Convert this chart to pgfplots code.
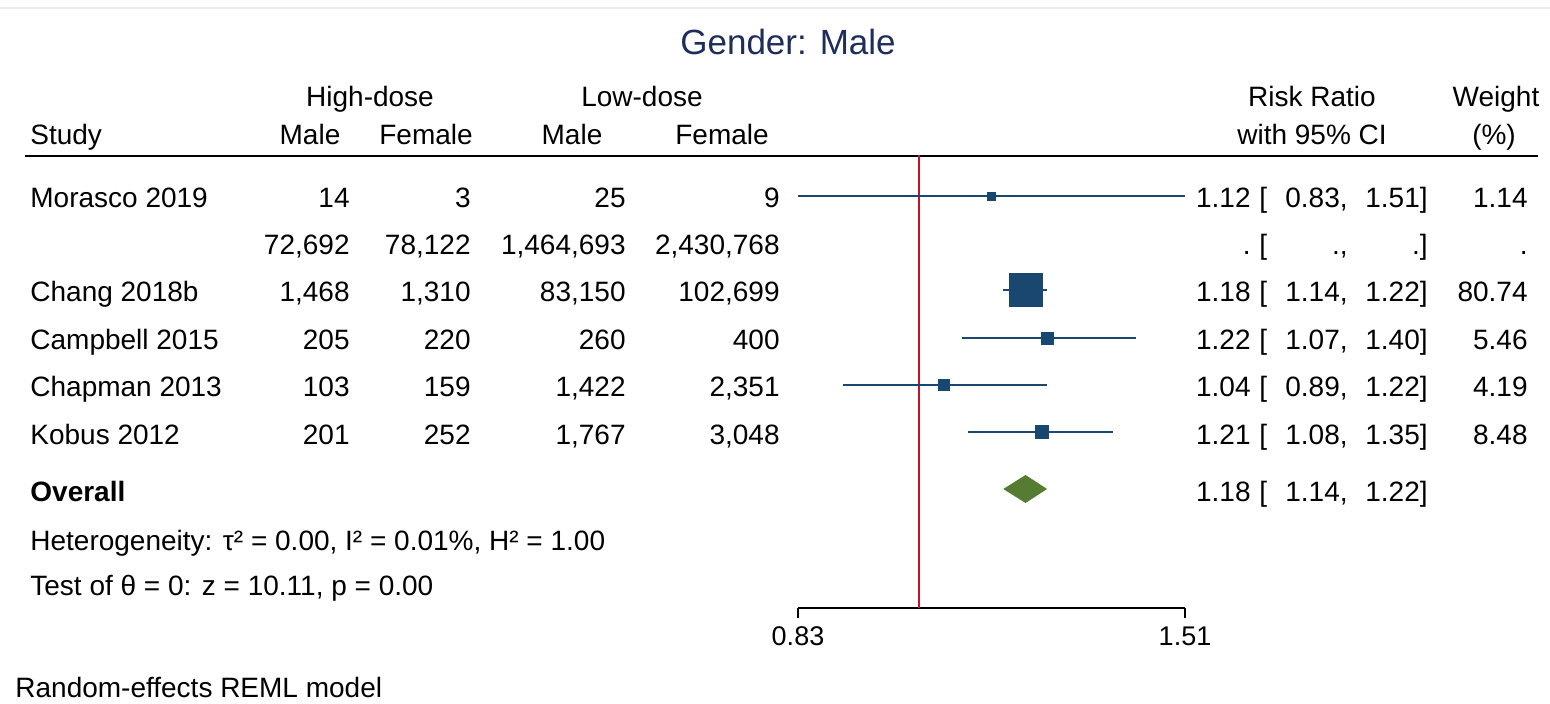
\documentclass[border=0pt]{standalone}
\usepackage{fontspec}
\setmainfont{Liberation Sans}
\usepackage{pgfplots}
\pgfplotsset{compat=1.18}
\definecolor{stnavy}{RGB}{26,71,111}
\definecolor{stgreen}{RGB}{86,124,52}
\definecolor{stred}{RGB}{200,16,46}
\definecolor{sttitle}{RGB}{30,45,90}
\newcommand\rowL[6]{%
 \node[anchor=base west] at (30,#1) {#2};
 \node[anchor=base east] at (350,#1) {#3};
 \node[anchor=base east] at (471,#1) {#4};
 \node[anchor=base east] at (626,#1) {#5};
 \node[anchor=base east] at (780,#1) {#6};}
\newcommand\rowR[5]{%
 \node[anchor=base east] at (1251,#1) {#2};
 \node[anchor=base west] at (1259,#1) {[};
 \node[anchor=base east] at (1348,#1) {#3,};
 \node[anchor=base east] at (1428,#1) {#4]};
 \node[anchor=base east] at (1528,#1) {#5};}
\begin{document}
\begin{tikzpicture}
\fontsize{14}{17}\selectfont
\begin{scope}[x=0.5pt,y=-0.5pt,every node/.style={inner sep=0pt,font=\fontsize{14}{17}\selectfont}]
\path[use as bounding box] (0,0) rectangle (1550,704);
\draw[black!8, line width=0.6pt] (0,8) -- (1550,8);
\node[anchor=base, text=sttitle, font=\fontsize{17.5}{21}\selectfont] at (788,55) {Gender: Male};
% headers
\node[anchor=base] at (370,107) {High-dose};
\node[anchor=base] at (642,107) {Low-dose};
\node[anchor=base] at (1312,107) {Risk Ratio};
\node[anchor=base] at (1496,107) {Weight};
\node[anchor=base west] at (30,145) {Study};
\node[anchor=base] at (310,145) {Male};
\node[anchor=base] at (426,145) {Female};
\node[anchor=base] at (572,145) {Male};
\node[anchor=base] at (722,145) {Female};
\node[anchor=base] at (1312,145) {with 95\% CI};
\node[anchor=base] at (1494,145) {(\%)};
\draw[black, line width=1.3pt] (25,156) -- (1538,156);
% rows
\rowL{208}{Morasco 2019}{14}{3}{25}{9}
\rowR{208}{1.12}{0.83}{1.51}{1.14}
\rowL{255}{}{72,692}{78,122}{1,464,693}{2,430,768}
\node[anchor=base east] at (1251,255) {.};
\node[anchor=base west] at (1259,255) {[};
\node[anchor=base east] at (1348,255) {.,};
\node[anchor=base east] at (1428,255) {.]};
\node[anchor=base east] at (1528,255) {.};
\rowL{302}{Chang 2018b}{1,468}{1,310}{83,150}{102,699}
\rowR{302}{1.18}{1.14}{1.22}{80.74}
\rowL{350}{Campbell 2015}{205}{220}{260}{400}
\rowR{350}{1.22}{1.07}{1.40}{5.46}
\rowL{397}{Chapman 2013}{103}{159}{1,422}{2,351}
\rowR{397}{1.04}{0.89}{1.22}{4.19}
\rowL{445}{Kobus 2012}{201}{252}{1,767}{3,048}
\rowR{445}{1.21}{1.08}{1.35}{8.48}
\node[anchor=base west, font=\fontsize{14}{17}\selectfont\bfseries] at (30,502) {Overall};
\rowR{502}{1.18}{1.14}{1.22}{}
\node[anchor=base west] at (30,550) {Heterogeneity: τ² = 0.00, I² = 0.01\%, H² = 1.00};
\node[anchor=base west] at (30,595) {Test of θ = 0: z = 10.11, p = 0.00};
\node[anchor=base west] at (15,697) {Random-effects REML model};
\end{scope}
\begin{axis}[at={(399pt,-304pt)}, anchor=south west, scale only axis,
  width=193.5pt, height=226.5pt,
  xmode=log, xmin=0.83, xmax=1.51, ymin=-608, ymax=-155,
  axis x line*=bottom, axis y line=none,
  axis line style={line width=0.7pt, black},
  xtick={0.83,1.51}, xticklabels={0.83,1.51}, minor xtick={},
  tick align=outside, major tick length=5pt,
  tick style={line width=0.6pt, black},
  xticklabel style={font=\fontsize{13.5}{16}\selectfont, inner sep=0pt, anchor=base, yshift=-13.5pt},
  clip=false]
% null line
\addplot[stred, line width=1pt] coordinates {(1,-155) (1,-608)};
% confidence intervals
\addplot[stnavy, line width=1pt] coordinates {(0.83,-196) (1.51,-196)};
\addplot[stnavy, line width=1pt] coordinates {(1.14,-290) (1.22,-290)};
\addplot[stnavy, line width=1pt] coordinates {(1.07,-338) (1.40,-338)};
\addplot[stnavy, line width=1pt] coordinates {(0.89,-385) (1.22,-385)};
\addplot[stnavy, line width=1pt] coordinates {(1.08,-432) (1.35,-432)};
% study estimates (square size ~ weight)
\addplot[only marks, mark=square*, mark size=2pt, stnavy] coordinates {(1.12,-196)};
\addplot[only marks, mark=square*, mark size=8.2pt, stnavy] coordinates {(1.18,-290)};
\addplot[only marks, mark=square*, mark size=3pt, stnavy] coordinates {(1.22,-338)};
\addplot[only marks, mark=square*, mark size=2.8pt, stnavy] coordinates {(1.04,-385)};
\addplot[only marks, mark=square*, mark size=3.4pt, stnavy] coordinates {(1.21,-432)};
% overall diamond
\addplot[fill=stgreen, draw=none] coordinates {(1.14,-489) (1.18,-475) (1.22,-489) (1.18,-503)} -- cycle;
\end{axis}
\end{tikzpicture}
\end{document}
